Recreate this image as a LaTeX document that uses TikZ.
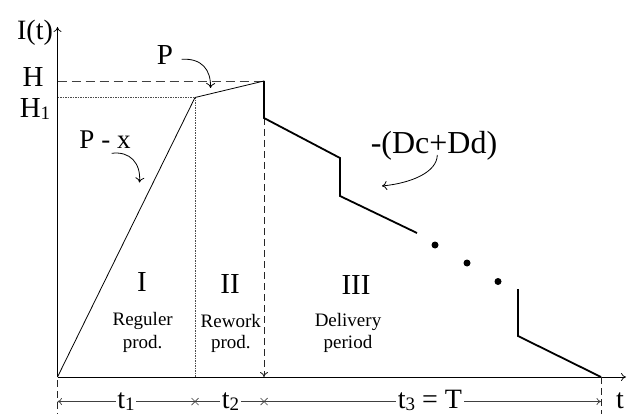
\documentclass[tikz,border=0pt]{standalone}
\usepackage{fontspec}
\setmainfont{Liberation Serif}
\usetikzlibrary{arrows.meta,calc}
\newcommand{\fs}[1]{\fontsize{#1}{#1}\selectfont}
\begin{document}
\begin{tikzpicture}[x=1pt,y=-1pt,
  thinline/.style={line width=0.8pt},
  boldline/.style={line width=1.8pt},
  axisarrow/.style={line width=0.7pt,-{To[length=5pt,width=8pt]}},
  curvearrow/.style={line width=0.8pt,-{To[length=5pt,width=9pt]}},
  hdash/.style={line width=0.9pt,black!75,dash pattern=on 9pt off 5pt},
  vdash/.style={line width=0.9pt,black!85,dash pattern=on 7pt off 4pt},
  dotline/.style={line width=0.9pt,black!70,dash pattern=on 1.5pt off 1pt},
  dimline/.style={line width=0.7pt,black!75},
  big/.style={font=\fs{29}, anchor=base, inner sep=0pt},
  small/.style={font=\fs{19}, anchor=base, inner sep=0pt},
  tlab/.style={font=\fs{28}, anchor=base, fill=white, inner xsep=1.5pt, inner ysep=0pt},
  dot/.style={circle, fill=black, inner sep=0pt, minimum size=7pt}
]
\useasboundingbox (0,0) rectangle (631,414);

% key points
\coordinate (O) at (57.5,377);
\coordinate (ytop) at (57.5,27);
\coordinate (xend) at (626,377);
\coordinate (H1p) at (195,97.5);
\coordinate (Hp) at (264,81);
\coordinate (Hl) at (57.5,81);
\coordinate (H1l) at (57.5,97.5);
\coordinate (a1) at (264,118);
\coordinate (a2) at (340,158);
\coordinate (a3) at (340,196);
\coordinate (a4) at (417,233);
\coordinate (b1) at (518,289);
\coordinate (b2) at (518,336);
\coordinate (Tp) at (601,377);
\coordinate (x1) at (195,377);
\coordinate (x2) at (264,377);

% axes
\draw[axisarrow] (O) -- (ytop);
\draw[axisarrow] (O) -- (xend);

% guide lines
\draw[hdash] (Hl) -- (Hp);
\draw[dotline] (H1l) -- (H1p);
\draw[dotline] (H1p) -- (x1);
\draw[vdash,-{To[length=5pt,width=8pt]}] (a1) -- (x2);

% inventory curve
\draw[thinline] (O) -- (H1p) -- (Hp);
\draw[boldline] (Hp) -- (a1) -- (a2) -- (a3) -- (a4);
\node[dot] (d1) at (435,245) {};
\node[dot] (d2) at (467,263) {};
\node[dot] (d3) at (498,281.5) {};
\draw[boldline] (b1) -- (b2) -- (Tp);

% labels on axes
\node[font=\fs{28}, anchor=base, inner sep=0pt] (It) at (35,39.3) {I(t)};
\node[big] (H) at (33,87) {H};
\node[big] (H1) at (35,118) {H\raisebox{-1.5pt}{\fs{19}1}};

% annotations
\node[big] (P) at (165,65) {P};
\draw[curvearrow] (181.7,59.3) .. controls (202,58) and (211,70) .. (210.5,88);
\node[font=\fs{27}, anchor=base, inner sep=0pt] (Px) at (105,149) {P - x};
\draw[curvearrow] (111.7,153.3) .. controls (130,151) and (141,163) .. (139.5,182.5);
\node[font=\fs{32}, anchor=base, inner sep=0pt] (D) at (434,153.3) {-(Dc+Dd)};
\draw[curvearrow] (437.3,155) .. controls (437,172) and (412,183) .. (382,186);

% regions
\node[big] (r1) at (142,291.7) {I};
\node[big] (r2) at (230,293) {II};
\node[big] (r3) at (356,294) {III};
\node[small] (r1a) at (142.7,325) {Reguler};
\node[small] (r1b) at (142.7,348) {prod.};
\node[small] (r2a) at (230.8,327) {Rework};
\node[small] (r2b) at (230.8,348) {prod.};
\node[small] (r3a) at (348,326.7) {Delivery};
\node[small] (r3b) at (348,348) {period};

% dimension line
\coordinate (dl) at (57.5,401.5);
\coordinate (dx1) at (195,401.5);
\coordinate (dx2) at (264,401.5);
\coordinate (dr) at (601,401.5);
\draw[vdash] (57.5,380) -- (57.5,414);
\draw[vdash] (Tp) -- (601,414);
\draw[dimline,{To[length=4.5pt,width=7pt]}-{To[length=4.5pt,width=7pt]}] (dl) -- (dr);
\draw[dimline] ($(dx1)+(-3.5,-3.5)$) -- ($(dx1)+(3.5,3.5)$) ($(dx1)+(-3.5,3.5)$) -- ($(dx1)+(3.5,-3.5)$);
\draw[dimline] ($(dx2)+(-3.5,-3.5)$) -- ($(dx2)+(3.5,3.5)$) ($(dx2)+(-3.5,3.5)$) -- ($(dx2)+(3.5,-3.5)$);
\node[tlab] (t1) at (126,408) {t\raisebox{-2.5pt}{\fs{19}1}};
\node[tlab] (t2) at (230.5,408) {t\raisebox{-2.5pt}{\fs{19}2}};
\node[tlab] (t3) at (430,408) {t\raisebox{-2.5pt}{\fs{19}3} = T};
\node[font=\fs{28}, anchor=base, inner sep=0pt] (tt) at (620,408) {t};
\end{tikzpicture}
\end{document}
